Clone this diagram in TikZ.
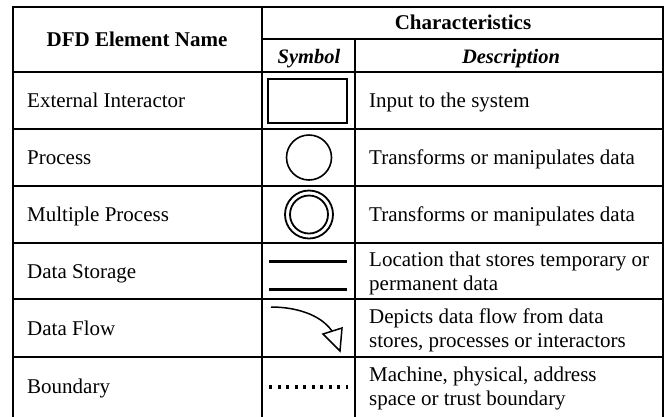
\documentclass[tikz,border=0pt]{standalone}
\usepackage{fontspec}
\setmainfont{Liberation Serif}
\begin{document}
\begin{tikzpicture}[x=1pt,y=-1pt,
  grid/.style={line width=1.4pt},
  hdr/.style={font=\fontsize{21}{24.5}\selectfont\bfseries, inner sep=0pt, anchor=base},
  subhdr/.style={font=\fontsize{20.5}{24.5}\selectfont\bfseries\itshape, inner sep=0pt, anchor=base},
  nametext/.style={font=\fontsize{21}{24.5}\selectfont, anchor=base west, inner sep=0pt},
  desctext/.style={font=\fontsize{21}{24.5}\selectfont, anchor=base west, align=left, inner sep=0pt},
  sym/.style={line width=1.8pt}]
\useasboundingbox (0,0) rectangle (669,416);
% grid (bottom edge of the table lies just below the picture)
\draw[grid] (13,417) -- (13,7) -- (663,7) -- (663,417);
\draw[grid] (262,39) -- (663,39);
\draw[grid] (262,7) -- (262,417);
\draw[grid] (355,39) -- (355,417);
\foreach \y in {72,129,186,243,299,357} \draw[grid] (13,\y) -- (663,\y);
% headers
\node[hdr] (hname) at (137,46.3) {DFD Element Name};
\node[hdr] (hchar) at (463,29) {Characteristics};
\node[subhdr] (hsym) at (309,63) {Symbol};
\node[subhdr] (hdesc) at (511,63) {Description};
% names
\node[nametext] (n1) at (27,107.5) {External Interactor};
\node[nametext] (n2) at (27,164.5) {Process};
\node[nametext] (n3) at (27,221.5) {Multiple Process};
\node[nametext] (n4) at (27,278) {Data Storage};
\node[nametext] (n5) at (27,335) {Data Flow};
\node[nametext] (n6) at (27,393) {Boundary};
% descriptions
\node[desctext] (d1) at (369,107.5) {Input to the system};
\node[desctext] (d2) at (369,164.5) {Transforms or manipulates data};
\node[desctext] (d3) at (369,221.5) {Transforms or manipulates data};
\node[desctext] (d4) at (369,290.5) {Location that stores temporary or\\permanent data};
\node[desctext] (d5) at (369,347.5) {Depicts data flow from data\\stores, processes or interactors};
\node[desctext] (d6) at (369,405.5) {Machine, physical, address\\space or trust boundary};
% symbols
\draw[sym] (268,79) rectangle (347,123);
\draw[line width=1.6pt] (309,157.5) circle (22.5);
\draw[line width=1.8pt] (309,214.5) circle (24);
\draw[line width=1.8pt] (309,214.5) circle (19);
\draw[line width=3pt] (269,261) -- (347,261);
\draw[line width=3pt] (269,289) -- (347,289);
\coordinate (fs) at (271,307);
\coordinate (fe) at (332,331);
\draw[line width=1.5pt] (fs) .. controls (295,307) and (320,314) .. (fe);
\draw[line width=1.5pt, line join=miter] (323,334) -- (342,328) -- (340,351) -- cycle;
\draw[line width=3.2pt, dash pattern=on 3.2pt off 5.3pt] (269,387) -- (348,387);
\end{tikzpicture}
\end{document}
